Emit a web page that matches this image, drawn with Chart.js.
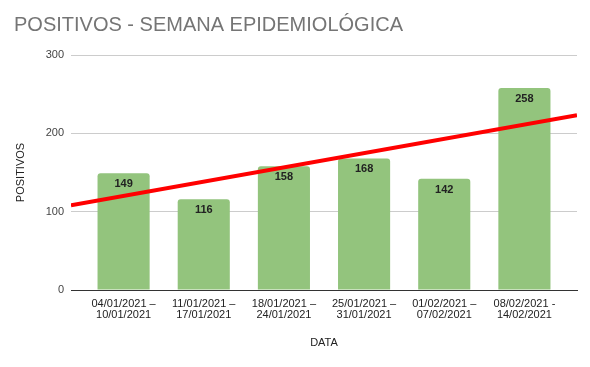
<!DOCTYPE html>
<html><head><meta charset="utf-8">
<script src="https://cdn.jsdelivr.net/npm/chart.js@4"></script>
<style>html,body{margin:0;padding:0;background:#fff;}</style>
</head><body>
<canvas id="c" width="590" height="367"></canvas>
<script>
// ---- data ----
const categories = [
  ["04/01/2021 –", "10/01/2021"],
  ["11/01/2021 –", "17/01/2021"],
  ["18/01/2021 –", "24/01/2021"],
  ["25/01/2021 –", "31/01/2021"],
  ["01/02/2021 –", "07/02/2021"],
  ["08/02/2021 -", "14/02/2021"]
];
const positivos = [149, 116, 158, 168, 142, 258];
// trend line values read at the left and right edges of the plot
const trendEnds = [108, 223];
const yTickValues = [0, 100, 200, 300];

// ---- chart ----
Chart.defaults.font.family = "'Liberation Sans', Arial, sans-serif";
const X_MIN = -0.656, X_MAX = categories.length - 1 + 0.656;

const labelPlugin = {
  id: 'barLabels',
  afterDatasetsDraw(chart) {
    const meta = chart.getDatasetMeta(1);
    const ctx = chart.ctx;
    ctx.save();
    ctx.font = "bold 11px 'Liberation Sans', Arial, sans-serif";
    ctx.fillStyle = '#222222';
    ctx.textAlign = 'center';
    ctx.textBaseline = 'middle';
    meta.data.forEach((bar, i) => {
      ctx.fillText(String(positivos[i]), bar.x, bar.y + 11);
    });
    ctx.restore();
  }
};

new Chart(document.getElementById('c'), {
  data: {
    datasets: [
      {
        type: 'line',
        label: 'Tendência',
        data: [{x: X_MIN, y: trendEnds[0]}, {x: X_MAX, y: trendEnds[1]}],
        borderColor: '#ff0000',
        borderWidth: 4,
        pointRadius: 0,
        tension: 0
      },
      {
        type: 'bar',
        label: 'POSITIVOS',
        data: positivos.map((v, i) => ({x: i, y: v})),
        backgroundColor: '#93c47d',
        borderRadius: 3,
        borderSkipped: 'start',
        categoryPercentage: 1,
        barPercentage: 0.65
      }
    ]
  },
  options: {
    responsive: false,
    animation: false,
    layout: {padding: {left: 14, right: 13, top: 0, bottom: 0}},
    plugins: {
      legend: {display: false},
      tooltip: {enabled: false},
      title: {
        display: true,
        text: 'POSITIVOS - SEMANA EPIDEMIOLÓGICA',
        align: 'start',
        color: '#757575',
        font: {size: 20, weight: 'normal'},
        padding: {top: 13, bottom: 18}
      }
    },
    scales: {
      x: {
        type: 'linear',
        offset: false,
        bounds: 'data',
        min: X_MIN,
        max: X_MAX,
        afterBuildTicks(scale) { scale.ticks = categories.map((_, i) => ({value: i})); },
        afterFit(scale) { scale.height = 77; },
        grid: {display: false, offset: false},
        border: {display: true, color: '#333333', width: 1},
        ticks: {
          autoSkip: false, maxRotation: 0, minRotation: 0,
          padding: 0,
          color: '#222222',
          font: {size: 11, lineHeight: 1.0},
          callback: (v) => categories[v]
        },
        title: {display: true, text: 'DATA', color: '#222222', font: {size: 11}, padding: {top: 0, bottom: 17}}
      },
      y: {
        min: 0, max: 300,
        afterBuildTicks(scale) { scale.ticks = yTickValues.map(v => ({value: v})); },
        afterFit(scale) { scale.width = 57; },
        border: {display: false},
        grid: {
          drawTicks: false,
          color: (c) => (c.tick && c.tick.value === 0) ? '#333333' : '#cccccc'
        },
        ticks: {padding: 7, color: '#444444', font: {size: 11}},
        title: {display: true, text: 'POSITIVOS', color: '#222222', font: {size: 11}, padding: {top: 0, bottom: 0}}
      }
    }
  },
  plugins: [labelPlugin]
});
</script>
</body></html>
